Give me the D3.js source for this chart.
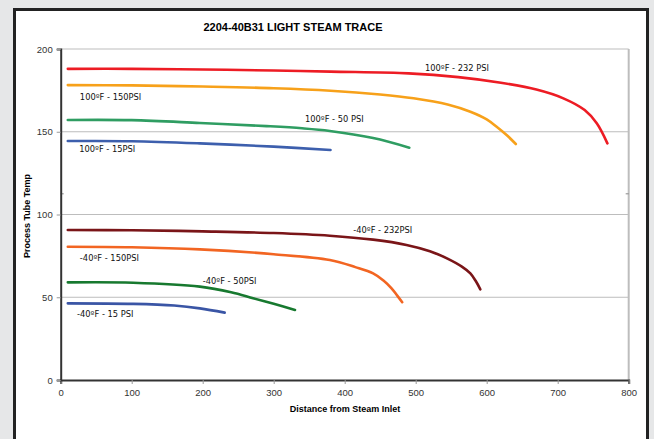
<html>
<head>
  <script src="https://d3js.org/d3.v7.min.js"></script>
  <style>
    body { margin: 0; background: #e6e7e8; }
    .tick text { font-family: "Liberation Sans", Arial, sans-serif; font-size: 9.5px; fill: #333; }
    .series-label { font-family: "DejaVu Sans", Verdana, sans-serif; font-size: 8.3px; fill: #111; }
  </style>
</head>
<body>
<svg id="chart" width="654" height="439"></svg>
<script>
  // distance from steam inlet vs process tube temp
  const hot232 = [[10,188],[100,188],[200,187.6],[300,187],[380,186.3],[490,185.3],[560,183],[620,179.6],[670,175.5],[708,170.2],[738,163.1],[755,155.1],[770,143]];
  const hot150 = [[10,178.2],[100,178],[200,177.3],[300,176.3],[380,174.8],[450,172.5],[497,170.2],[545,166.5],[577,162.1],[600,157.5],[614,153],[628,148],[641,142.6]];
  const hot50  = [[10,157.1],[100,157],[196,155.3],[290,153.4],[340,152.1],[379,150.5],[440,146.2],[491,140.4]];
  const hot15  = [[10,144.4],[100,144.3],[196,143],[300,141],[380,139]];
  const cold232 = [[10,90.6],[100,90.5],[200,89.8],[300,88.8],[379,87.2],[440,84.8],[487,81.6],[520,77.8],[544,73.5],[565,68.5],[577,64.4],[585,59.5],[591,54.8]];
  const cold150 = [[10,80.5],[100,80.2],[196,78.9],[300,76],[379,72.5],[415,68.2],[440,64.4],[455,60],[466,55.4],[474,51],[481,47]];
  const cold50  = [[10,59],[102,58.8],[196,56.4],[240,53],[271,49.4],[300,46],[330,42.3]];
  const cold15  = [[10,46.3],[102,46],[160,45],[196,43.3],[231,40.7]];

  const seriesNames = ["100ºF - 232 PSI","100ºF - 150PSI","100ºF - 50 PSI","100ºF - 15PSI",
                       "-40ºF - 232PSI","-40ºF - 150PSI","-40ºF - 50PSI","-40ºF - 15 PSI"];
  const seriesData = [hot232, hot150, hot50, hot15, cold232, cold150, cold50, cold15];
  const seriesColors = ["#ed1c24","#f7a11a","#2f9d62","#3d5fad","#7a1518","#f26522","#17792f","#3a55a5"];
  // label anchor points (data units)
  const labelX = [513, 27, 344, 26, 412, 27, 200, 23];
  const labelY = [188.5, 171.2, 157.7, 139.6, 90.6, 73.7, 59.8, 39.9];

  const xTicks = [0,100,200,300,400,500,600,700,800];
  const yTicks = [0,50,100,150,200];

  const svg = d3.select("#chart");
  const margin = {top: 49, right: 25.3, bottom: 59, left: 60.7};
  const width = 654, height = 439;

  // white panel with dark frame
  svg.append("rect").attr("x", 14.5).attr("y", 9.5).attr("width", 633).attr("height", 440)
     .attr("fill", "white").attr("stroke", "#222").attr("stroke-width", 3);

  const x = d3.scaleLinear().domain([0, 800]).range([margin.left, width - margin.right]);
  const y = d3.scaleLinear().domain([0, 200]).range([height - margin.bottom, margin.top]);

  // gridlines
  svg.append("g").selectAll("line").data(yTicks.filter(d => d > 0))
     .join("line")
     .attr("x1", x(0)).attr("x2", x(800))
     .attr("y1", d => y(d)).attr("y2", d => y(d))
     .attr("stroke", "#bdbdbd").attr("stroke-width", 1);

  // right border of plot
  svg.append("line").attr("x1", x(800)).attr("x2", x(800)).attr("y1", y(200)).attr("y2", y(0))
     .attr("stroke", "#bdbdbd").attr("stroke-width", 2);
  // small stray tick seen on both sides
  svg.append("line").attr("x1", x(0)).attr("x2", x(0) + 3).attr("y1", y(112.5)).attr("y2", y(112.5))
     .attr("stroke", "#888");
  svg.append("line").attr("x1", x(800) - 3).attr("x2", x(800)).attr("y1", y(112.5)).attr("y2", y(112.5))
     .attr("stroke", "#888");

  const xAxis = svg.append("g").attr("transform", `translate(0,${y(0)})`)
     .call(d3.axisBottom(x).tickValues(xTicks).tickSize(4).tickPadding(5));
  xAxis.select(".domain").attr("stroke", "#333").attr("stroke-width", 2);
  xAxis.selectAll(".tick line").attr("stroke", "#999");

  const yAxis = svg.append("g").attr("transform", `translate(${x(0)},0)`)
     .call(d3.axisLeft(y).tickValues(yTicks).tickSize(4).tickPadding(4));
  yAxis.select(".domain").attr("stroke", "#333").attr("stroke-width", 2);
  yAxis.selectAll(".tick line").attr("stroke", "#999");

  const line = d3.line().x(d => x(d[0])).y(d => y(d[1])).curve(d3.curveCatmullRom.alpha(0.5));

  svg.append("g").selectAll("path").data(seriesData)
     .join("path")
     .attr("d", line)
     .attr("fill", "none")
     .attr("stroke", (d, i) => seriesColors[i])
     .attr("stroke-width", 2.6)
     .attr("stroke-linecap", "round");

  svg.append("g").selectAll("text").data(seriesNames)
     .join("text")
     .attr("class", "series-label")
     .attr("x", (d, i) => x(labelX[i]))
     .attr("y", (d, i) => y(labelY[i]))
     .attr("dy", "0.35em")
     .text(d => d);

  svg.append("text")
     .attr("x", 293).attr("y", 27).attr("dy", "0.35em")
     .attr("text-anchor", "middle")
     .style("font-family", "'Liberation Sans Narrow', 'Liberation Sans', Arial, sans-serif")
     .style("font-weight", "700").style("font-size", "11px")
     .text("2204-40B31 LIGHT STEAM TRACE");

  svg.append("text")
     .attr("x", 345).attr("y", 409).attr("dy", "0.35em")
     .attr("text-anchor", "middle")
     .style("font-family", "'Liberation Sans', Arial, sans-serif")
     .style("font-weight", "700").style("font-size", "9px")
     .text("Distance from Steam Inlet");

  svg.append("text")
     .attr("transform", "translate(27,216) rotate(-90)")
     .attr("dy", "0.35em")
     .attr("text-anchor", "middle")
     .style("font-family", "'Liberation Sans', Arial, sans-serif")
     .style("font-weight", "700").style("font-size", "9px")
     .text("Process Tube Temp");
</script>
</body>
</html>
